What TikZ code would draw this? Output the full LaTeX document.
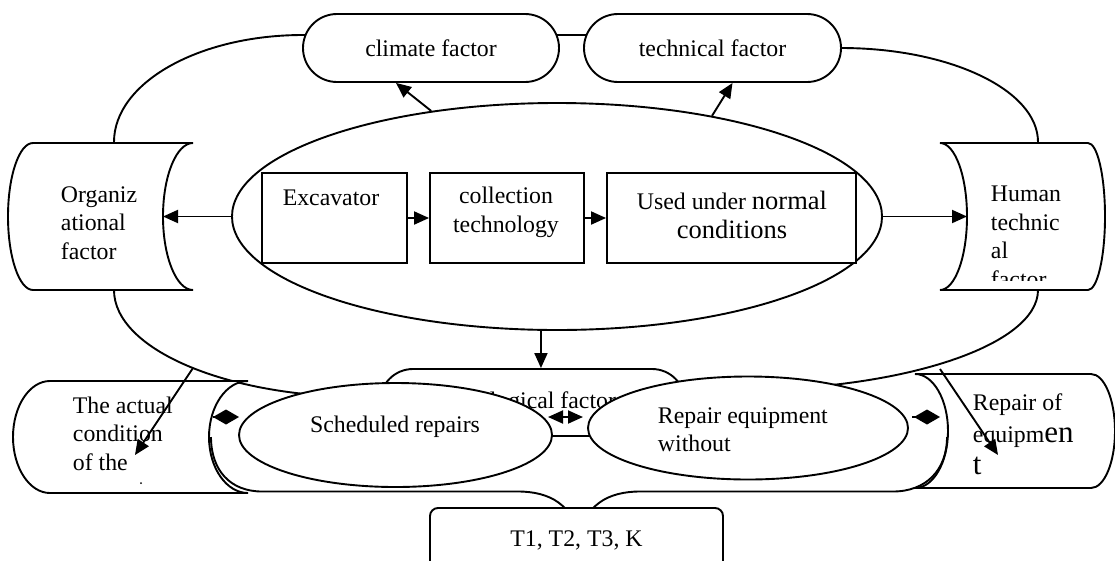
\documentclass[tikz,border=0pt]{standalone}
\usepackage{fontspec}
\setmainfont{Liberation Serif}
\usetikzlibrary{arrows.meta,shapes.geometric}
\newcommand{\bigsz}{\fontsize{26.5}{30}\selectfont}
\newcommand{\hugesz}{\fontsize{31}{34}\selectfont}

\begin{document}
\begin{tikzpicture}[x=1pt,y=-1pt,line width=1.9pt,
  font=\fontsize{23.8}{28.5}\selectfont,
  >={Triangle[length=15pt,width=13pt]},
  every node/.style={inner sep=0pt},
  pill/.style={draw,fill=white,rounded corners=34pt,minimum height=68pt},
  card/.style={draw,fill=white,minimum height=90pt},
  oval/.style={draw,fill=white,ellipse},
  dia/.style={-{Diamond[length=26pt,width=15pt]}}]
\useasboundingbox (0,0) rectangle (1115,560);
\fill[white] (0,0) rectangle (1115,560);
\clip (0,0) rectangle (1115,560);

\draw (114,142) arc[start angle=180,end angle=270,x radius=189,y radius=107] -- (700,35) -- (700,48) -- (841,48)
  arc[start angle=270,end angle=360,x radius=197,y radius=94] -- (1038,290)
  arc[start angle=0,end angle=90,x radius=300,y radius=100] -- (364,397)
  arc[start angle=90,end angle=180,x radius=250,y radius=107] -- cycle;

\node[pill,minimum width=256pt] (clim) at (431,48) {climate factor};
\node[pill,minimum width=257pt] (techn) at (712.5,48) {technical factor};

\draw[fill=white] (33,143) arc[start angle=270,end angle=90,x radius=25,y radius=73.5] -- (193,290)
  arc[start angle=90,end angle=270,x radius=30,y radius=73.5] -- cycle;
\coordinate (org) at (163,216.5);
\node[anchor=west,align=left] (orgtxt) at (60,223) {Organiz\\ational\\factor};

\draw[fill=white] (940,143) -- (1088,143) arc[start angle=270,end angle=450,x radius=17,y radius=73.5] -- (940,290)
  arc[start angle=90,end angle=-90,x radius=27,y radius=73.5] -- cycle;
\coordinate (hum) at (967,216.5);
\begin{scope}
  \clip (945,150) rectangle (1085,280);
  \node[anchor=west,align=left] (humtxt) at (990,237) {Human\\technic\\al\\factor};
\end{scope}

\node[oval,minimum width=650pt,minimum height=227pt] (ell) at (557,216.5) {};
\node[card,minimum width=145pt] (exc) at (334.5,218) {};
\node[card,minimum width=154pt] (coll) at (507,218) {};
\node[card,minimum width=249pt] (used) at (731.5,218) {};
\node (exctxt) at (331,198) {Excavator};
\node[align=center] (colltxt) at (506,212.5) {collection\\technology};
\node[align=center] (usedtxt) at (732,215) {Used under {\bigsz normal}\\{\bigsz conditions}};

\node[pill,minimum width=305pt,minimum height=67pt,rounded corners=33pt] (tech) at (532.5,402.5) {};
\node (techtxt) at (518,403) {Technological factor};

\draw[->] (exc) -- (coll);
\draw[->] (coll) -- (used);
\draw[->] (ell.west) -- (org);
\draw[->] (ell.east) -- (hum);
\draw[->] (ell.140) -- ([xshift=-35pt]clim.south);
\draw[->] (ell.33) -- ([xshift=20pt]techn.south);
\draw[->] (ell.262) -- (ell.262 |- tech.north);

\node[oval,minimum width=313pt,minimum height=104pt] (sched) at (395.5,435) {};
\node (schedtxt) at (395,427) {Scheduled repairs};
\node[oval,minimum width=320pt,minimum height=103pt] (rwo) at (748,428) {};
\node[anchor=west,align=left] (rwotxt) at (657,429.5) {Repair equipment\\without};

\draw[fill=white] (50,381) arc[start angle=270,end angle=90,x radius=37,y radius=56] -- (248,493)
  arc[start angle=90,end angle=270,x radius=39,y radius=56] -- cycle;
\node[anchor=west,align=left] (acttxt) at (72,433.5) {The actual\\condition\\of the};
\fill (141,483) circle (1);

\draw[fill=white] (915,374) -- (1091,374) arc[start angle=270,end angle=450,x radius=24,y radius=57] -- (915,488)
  arc[start angle=90,end angle=-90,x radius=33,y radius=57] -- cycle;
\node[anchor=west,align=left] (reptxt) at (972,434) {Repair of\\[4pt]equipm{\hugesz en}\\[3pt]{\hugesz t}};

\draw (211,437) .. controls (211,470) and (230,491.5) .. (262,491.5) -- (518,491.5)
  .. controls (550,491.5) and (574,505) .. (579,540) .. controls (584,505) and (608,491.5) .. (640,491.5)
  -- (893,491.5) .. controls (926,491.5) and (947,470) .. (947,437);
\node[draw,fill=white,rounded corners=8pt,minimum width=293pt,minimum height=64pt] (tbox) at (576.5,540) {T1, T2, T3, K};

\coordinate (dl) at (548,417);
\coordinate (dr) at (583,417);
\draw[<->] (dl) -- (dr);
\coordinate (dA) at (213,417);
\coordinate (dB) at (239,417);
\draw[dia] (dA) -- (dB);
\coordinate (dC) at (912,417);
\coordinate (dD) at (940,417);
\draw[dia] (dC) -- (dD);

\coordinate (lpA) at (193,368);
\coordinate (actP) at (135,455);
\draw[->] (lpA) -- (actP);
\coordinate (lpB) at (940,369);
\coordinate (repP) at (998,455);
\draw[->] (lpB) -- (repP);
\end{tikzpicture}
\end{document}
